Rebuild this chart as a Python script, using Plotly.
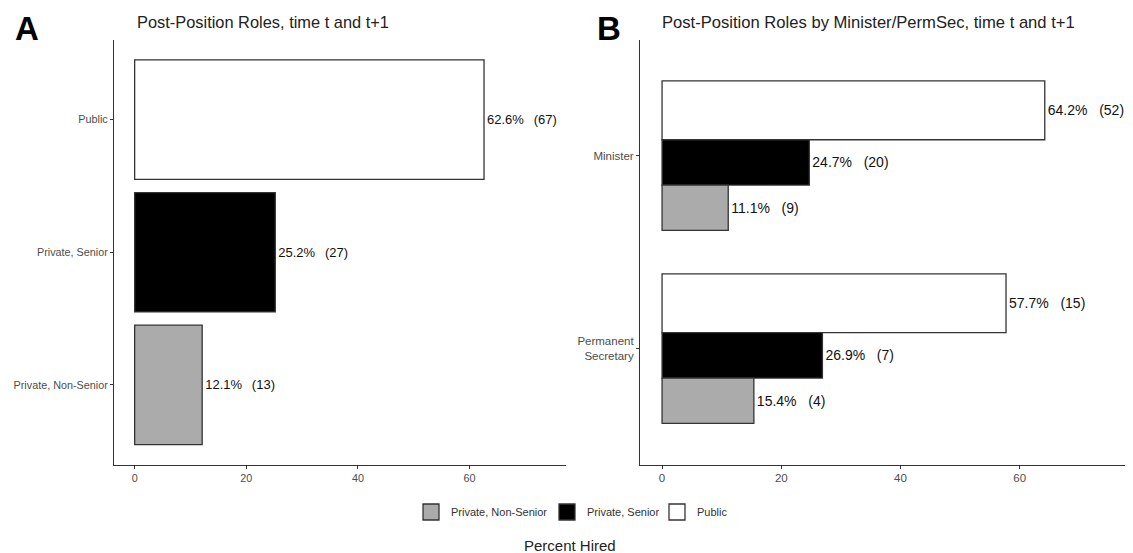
import plotly.graph_objects as go

# ---- data ----
cats_a = ["Private, Non-Senior", "Private, Senior", "Public"]
vals_a = [12.1, 25.2, 62.6]
counts_a = [13, 27, 67]

groups_b = ["Permanent Secretary", "Minister"]
group_labels_b = ["Permanent<br>Secretary", "Minister"]
series_b = ["Public", "Private, Senior", "Private, Non-Senior"]
vals_b = {
    "Public": [57.7, 64.2],
    "Private, Senior": [26.9, 24.7],
    "Private, Non-Senior": [15.4, 11.1],
}
counts_b = {
    "Public": [15, 52],
    "Private, Senior": [7, 20],
    "Private, Non-Senior": [4, 9],
}
legend_order = ["Private, Non-Senior", "Private, Senior", "Public"]
x_ticks = [0, 20, 40, 60]

# ---- styles ----
colors = {"Private, Non-Senior": "#ababab", "Private, Senior": "#000000", "Public": "#ffffff"}
edge = "#333333"
W, H = 1133, 553
OX, OY = 8, 8  # page offset of the plot div


def px(x):
    return (x - OX) / W


def py(y):
    return 1 - (y - OY) / H


FONT = "Liberation Sans, Arial, sans-serif"
NB = "\u00a0"
GAP_A = NB * 2 + "\u2009"
GAP_B = NB * 3

fig = go.Figure()

# Panel A
fig.add_trace(go.Bar(
    y=cats_a, x=vals_a, orientation="h", width=0.9,
    marker=dict(color=[colors[c] for c in cats_a], line=dict(color=edge, width=1.3)),
    text=[f"{v:.1f}%{GAP_A}({n})" for v, n in zip(vals_a, counts_a)],
    textposition="outside", constraintext="none", cliponaxis=False,
    textfont=dict(size=13, color="#111111", family=FONT),
    xaxis="x", yaxis="y", showlegend=False, hoverinfo="skip",
))

# Panel B
widths_b = {"Public": 0.305, "Private, Senior": 0.235, "Private, Non-Senior": 0.235}
offsets_b = {"Public": 0.083, "Private, Senior": -0.152, "Private, Non-Senior": -0.387}
for s in series_b:
    fig.add_trace(go.Bar(
        y=groups_b, x=vals_b[s], orientation="h",
        width=widths_b[s], offset=offsets_b[s],
        marker=dict(color=colors[s], line=dict(color=edge, width=1.3)),
        text=[f"{v:.1f}%{GAP_B}({n})" for v, n in zip(vals_b[s], counts_b[s])],
        textposition="outside", constraintext="none", cliponaxis=False,
        textfont=dict(size=14, color="#111111", family=FONT),
        xaxis="x2", yaxis="y2", showlegend=False, hoverinfo="skip",
    ))

# Legend proxies (one legend each, so they can be placed like the reference)
legend_x = {"Private, Non-Senior": 411, "Private, Senior": 547, "Public": 657}
legend_names = {"Private, Non-Senior": "legend", "Private, Senior": "legend2", "Public": "legend3"}
for s in legend_order:
    fig.add_trace(go.Scatter(
        x=[None], y=[None], mode="markers", name=s,
        marker=dict(symbol="square", size=20, color=colors[s], line=dict(color=edge, width=1.3)),
        xaxis="x", yaxis="y", showlegend=True, legend=legend_names[s],
    ))


def leg(s):
    return dict(orientation="h", x=px(legend_x[s]), xanchor="left", y=py(512), yanchor="middle",
                font=dict(size=11, color="#333333", family=FONT), itemsizing="trace",
                bgcolor="rgba(0,0,0,0)")


ydom = [py(464.5), py(40)]


def axis_common(fs):
    return dict(
        showgrid=False, zeroline=False, showline=True, linecolor=edge, linewidth=1.1,
        ticks="outside", ticklen=3, tickcolor=edge, tickwidth=1,
        tickfont=dict(size=fs, color="#4d4d4d", family=FONT),
    )


fig.update_layout(
    width=W, height=H, margin=dict(l=0, r=0, t=0, b=0),
    paper_bgcolor="white", plot_bgcolor="white",
    barmode="overlay",
    font=dict(family=FONT),
    xaxis=dict(domain=[px(114), px(565.5)], range=[-3.7, 77.2], tickvals=x_ticks,
               anchor="y", **axis_common(10.8)),
    yaxis=dict(domain=ydom, range=[-0.6, 2.6], type="category",
               categoryorder="array", categoryarray=cats_a, anchor="x", **axis_common(10.8)),
    xaxis2=dict(domain=[px(640), px(1133)], range=[-3.7, 79.0], tickvals=x_ticks,
                anchor="y2", **axis_common(11.5)),
    yaxis2=dict(domain=ydom, range=[-0.6, 1.6], type="category",
                categoryorder="array", categoryarray=groups_b,
                tickvals=groups_b, ticktext=group_labels_b, anchor="x2", **axis_common(11.5)),
    legend=leg("Private, Non-Senior"),
    legend2=leg("Private, Senior"),
    legend3=leg("Public"),
    annotations=[
        dict(text="<b>A</b>", x=px(13), y=py(29), xref="paper", yref="paper",
             xanchor="left", yanchor="middle", showarrow=False,
             font=dict(size=33, color="black", family=FONT)),
        dict(text="<b>B</b>", x=px(595), y=py(29), xref="paper", yref="paper",
             xanchor="left", yanchor="middle", showarrow=False,
             font=dict(size=33, color="black", family=FONT)),
        dict(text="Post-Position Roles, time t and t+1", x=px(135), y=py(22),
             xref="paper", yref="paper", xanchor="left", yanchor="middle", showarrow=False,
             font=dict(size=16.4, color="#222222", family=FONT)),
        dict(text="Post-Position Roles by Minister/PermSec, time t and t+1", x=px(660), y=py(22),
             xref="paper", yref="paper", xanchor="left", yanchor="middle", showarrow=False,
             font=dict(size=16.6, color="#222222", family=FONT)),
        dict(text="Percent Hired", x=px(570), y=py(545), xref="paper", yref="paper",
             xanchor="center", yanchor="middle", showarrow=False,
             font=dict(size=15, color="#222222", family=FONT)),
    ],
)

fig.write_html("out.html")
